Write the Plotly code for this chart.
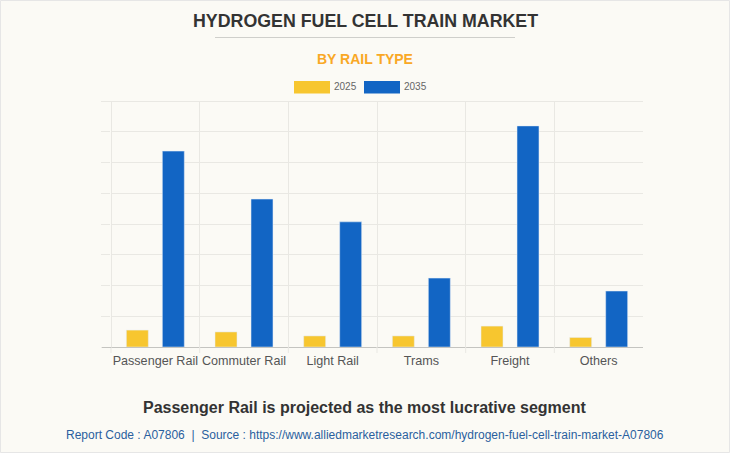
import plotly.graph_objects as go

categories = ["Passenger Rail", "Commuter Rail", "Light Rail", "Trams", "Freight", "Others"]
values_2025 = [0.55, 0.49, 0.36, 0.36, 0.68, 0.31]
values_2035 = [6.37, 4.81, 4.07, 2.24, 7.19, 1.82]
y_ticks = [0, 1, 2, 3, 4, 5, 6, 7, 8]

BG = "#FBFAF5"
GRID = "#E9E8E3"
AXIS = "#C4C4C0"
YELLOW = "#F7C62F"
BLUE = "#1265C4"
FONT = "Liberation Sans"

W, H = 730, 453
L, R, T, B = 111, 87, 101, 106

fig = go.Figure()
fig.add_trace(go.Bar(x=categories, y=values_2025, name="2025", marker_color=YELLOW))
fig.add_trace(go.Bar(x=categories, y=values_2035, name="2035", marker_color=BLUE))


# paper coordinates follow the plot area, so convert from page pixels
def px(x):
    return (x - L) / (W - L - R)


def py(y):
    return (H - B - y) / (H - T - B)


def text(x, y, s, size, color, bold=False):
    fig.add_annotation(
        x=px(x), y=py(y), xref="paper", yref="paper", text=f"<b>{s}</b>" if bold else s,
        showarrow=False, xanchor="center", yanchor="middle",
        font=dict(family=FONT, size=size, color=color),
    )


def line(x0, y0, x1, y1, color):
    fig.add_shape(type="line", xref="paper", yref="paper", x0=px(x0), x1=px(x1), y0=py(y0), y1=py(y1),
                  line=dict(color=color, width=1))


def rect(x0, y0, x1, y1, fill, border=None):
    fig.add_shape(
        type="rect", xref="paper", yref="paper", x0=px(x0), x1=px(x1), y0=py(y0), y1=py(y1),
        fillcolor=fill, line=dict(color=border, width=1) if border else dict(width=0),
    )


text(365, 21, "HYDROGEN FUEL CELL TRAIN MARKET", 17.8, "#333333", bold=True)
text(365, 59, "BY RAIL TYPE", 14, "#F9A825", bold=True)
text(345, 86.5, "2025", 10, "#666666")
text(415, 86.5, "2035", 10, "#666666")
text(365, 407, "Passenger Rail is projected as the most lucrative segment", 16, "#333333", bold=True)
text(365, 435, "Report Code : A07806&nbsp;&nbsp;|&nbsp;&nbsp;Source : https://www.alliedmarketresearch.com/hydrogen-fuel-cell-train-market-A07806", 12, "#2A5F9E")

# title rule and legend swatches
line(215, 37.5, 515, 37.5, "#CFCFCB")
rect(294, 81, 330, 93.5, YELLOW)
rect(364, 81, 400, 93.5, BLUE)
# page border
rect(0.5, 0.5, 729.5, 452.5, "rgba(0,0,0,0)", border="#E6E6E6")

# plotly drops grid lines on the range edges, and the category ticks stop short of the right end
line(102, 101.5, 643, 101.5, GRID)
line(111.5, 101, 111.5, 347, GRID)
for i in range(len(categories)):
    fig.add_shape(type="line", xref="paper", yref="paper", x0=i / len(categories), x1=i / len(categories),
                  y0=0, y1=py(353), line=dict(color=GRID, width=1))
line(102, 347.5, 111, 347.5, AXIS)

fig.update_layout(
    width=W, height=H,
    margin=dict(l=L, r=R, t=T, b=B, autoexpand=False),
    paper_bgcolor=BG, plot_bgcolor=BG,
    showlegend=False,
    barmode="group", bargap=0.188, bargroupgap=0.39,
    font=dict(family=FONT, color="#555555"),
)
fig.update_xaxes(
    showgrid=True, gridcolor=GRID, gridwidth=1, tickson="boundaries", ticks="",
    showline=True, linecolor=AXIS, linewidth=1, tickangle=0, ticklabelstandoff=2,
    tickfont=dict(size=12.6, color="#555555"),
)
fig.update_yaxes(
    range=[0, 8], tickvals=y_ticks, showticklabels=False, showgrid=True, gridcolor=GRID,
    ticks="outside", ticklen=9, tickcolor=GRID, zeroline=False,
)

fig.write_html("out.html", config={"displayModeBar": False}, post_script="document.body.style.margin='0';")
